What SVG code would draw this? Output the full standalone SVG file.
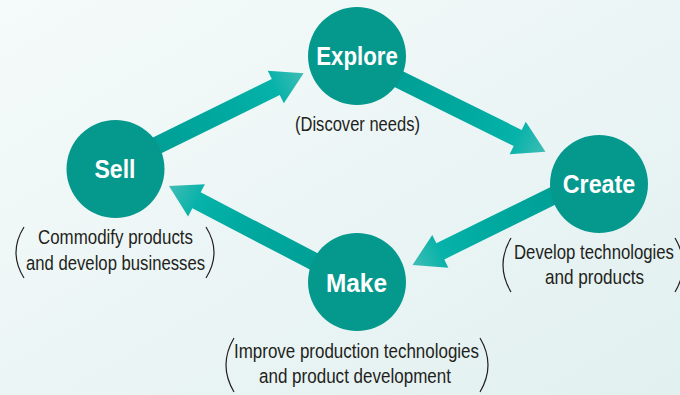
<svg xmlns="http://www.w3.org/2000/svg" width="680" height="395" viewBox="0 0 680 395">
  <defs>
    <linearGradient id="bg" x1="0" y1="0" x2="1" y2="1">
      <stop offset="0" stop-color="#f5fafa"/>
      <stop offset="1" stop-color="#e2f0f0"/>
    </linearGradient>
    <linearGradient id="ag" x1="0" y1="0" x2="1" y2="0">
      <stop offset="0" stop-color="#009d93"/>
      <stop offset="0.55" stop-color="#00aaa0"/>
      <stop offset="0.82" stop-color="#06b2a9"/>
      <stop offset="1" stop-color="#40bdb6"/>
    </linearGradient>
  </defs>
  <style>
    .arrow { fill: url(#ag); }
    .node circle { fill: #05998e; }
    .title { font-family: "Liberation Sans", "DejaVu Sans", sans-serif; font-weight: bold; font-size: 25.5px; fill: #ffffff; text-anchor: middle; }
    .sub { font-family: "Liberation Sans", "DejaVu Sans", sans-serif; font-size: 20.5px; fill: #231f20; text-anchor: middle; }
    .paren { fill: none; stroke: #231f20; stroke-width: 1.2; }
  </style>
  <rect width="680" height="395" fill="url(#bg)"/>
  <g id="connectors">
    <polygon class="arrow" points="-185,-9 -31,-9 -31,-18.2 0,0 -31,18.2 -31,9 -185,9" transform="translate(303.6,73.3) rotate(-26.2)"/>
    <polygon class="arrow" points="-185,-9 -31,-9 -31,-18.2 0,0 -31,18.2 -31,9 -185,9" transform="translate(545.5,151.7) rotate(26.3)"/>
    <polygon class="arrow" points="-180,-9 -31,-9 -31,-18.2 0,0 -31,18.2 -31,9 -180,9" transform="translate(412.5,265) rotate(153.8)"/>
    <polygon class="arrow" points="-185,-9 -31,-9 -31,-18.2 0,0 -31,18.2 -31,9 -185,9" transform="translate(169,186) rotate(207.5)"/>
  </g>
  <g id="explore" class="node">
    <circle cx="357" cy="56" r="49"/>
    <text class="title" x="357" y="65" textLength="81.5" lengthAdjust="spacingAndGlyphs">Explore</text>
    <text class="sub" x="357.5" y="131" textLength="125" lengthAdjust="spacingAndGlyphs">(Discover needs)</text>
  </g>
  <g id="create" class="node">
    <circle cx="599" cy="184" r="49"/>
    <text class="title" x="599" y="193" textLength="72.5" lengthAdjust="spacingAndGlyphs">Create</text>
    <path class="paren" d="M511,238 Q495,265 511,292"/>
    <path class="paren" d="M675,238 Q691,265 675,292"/>
    <text class="sub" x="0" y="0" transform="translate(594,259) scale(0.85,1)" textLength="188.2" lengthAdjust="spacingAndGlyphs">Develop technologies</text>
    <text class="sub" x="0" y="0" transform="translate(594.5,284) scale(0.85,1)" textLength="116.5" lengthAdjust="spacingAndGlyphs">and products</text>
  </g>
  <g id="make" class="node">
    <circle cx="357" cy="282" r="49"/>
    <text class="title" x="356.5" y="292" textLength="61" lengthAdjust="spacingAndGlyphs">Make</text>
    <path class="paren" d="M234,338 Q218,365 234,392"/>
    <path class="paren" d="M480,338 Q496,365 480,392"/>
    <text class="sub" x="356.5" y="358" textLength="245" lengthAdjust="spacingAndGlyphs">Improve production technologies</text>
    <text class="sub" x="355" y="383" textLength="192" lengthAdjust="spacingAndGlyphs">and product development</text>
  </g>
  <g id="sell" class="node">
    <circle cx="115.5" cy="169" r="49"/>
    <text class="title" x="115" y="178" textLength="41" lengthAdjust="spacingAndGlyphs">Sell</text>
    <path class="paren" d="M24,227 Q8,252.5 24,278"/>
    <path class="paren" d="M206,227 Q222,252.5 206,278"/>
    <text class="sub" x="115.5" y="244" textLength="155" lengthAdjust="spacingAndGlyphs">Commodify products</text>
    <text class="sub" x="115.5" y="270" textLength="179" lengthAdjust="spacingAndGlyphs">and develop businesses</text>
  </g>
</svg>
